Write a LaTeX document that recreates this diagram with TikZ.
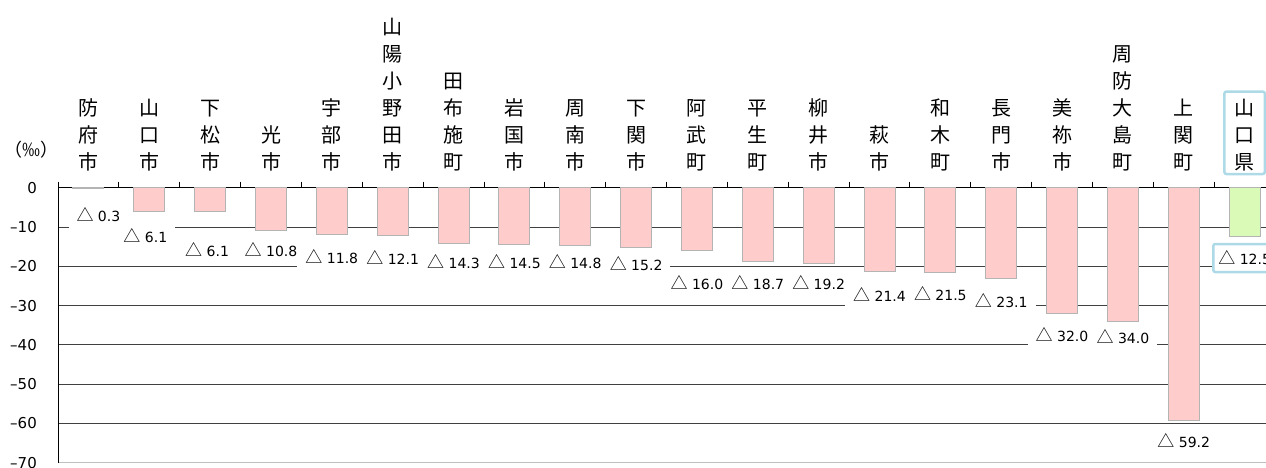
\documentclass[tikz,border=0pt]{standalone}
\usepackage{fontspec}
\setmainfont{DejaVu Sans}
\newfontfamily\jp{Noto Sans CJK JP}
\definecolor{barpink}{HTML}{FFCCCC}
\definecolor{bargreen}{HTML}{DAFBB8}
\definecolor{bargrey}{HTML}{B4B4B4}
\definecolor{keyblue}{HTML}{ADDAE6}
\newcommand{\dtri}{{\jp\fontsize{17}{17}\selectfont △}}

\begin{document}
\begin{tikzpicture}[
    x = 1pt, y = -1pt, % one unit per pixel, y downwards
    bar/.style = {fill=barpink, draw=bargrey, line width=0.9pt}, % bar style
    grid/.style = {draw=black!75, line width=0.9pt}, % grid line style
    cat/.style = {anchor=south, align=center, inner sep=0pt, font=\jp\fontsize{20}{27}\selectfont},
    val/.style = {fill=white, inner xsep=8pt, inner ysep=0pt, minimum height=26pt, font=\fontsize{14}{14}\selectfont},
    ylab/.style = {anchor=east, inner sep=0pt, font=\fontsize{15}{15}\selectfont},
    keybox/.style = {draw=keyblue, line width=2.5pt, rounded corners=2pt}
]
\useasboundingbox (0,0) rectangle (1266,468);

% Grid
\draw[grid] (58,227.0) -- (1275,227.0);
\draw[grid] (58,266.3) -- (1275,266.3);
\draw[grid] (58,305.6) -- (1275,305.6);
\draw[grid] (58,344.9) -- (1275,344.9);
\draw[grid] (58,384.2) -- (1275,384.2);
\draw[grid] (58,423.5) -- (1275,423.5);
\draw[draw=black!25, line width=1.2pt] (58,462.8) -- (1275,462.8);

% Axes
\draw[line width=0.9pt] (58,187.7) -- (1275,187.7);
\draw[line width=0.9pt] (58,181.5) -- (58,462.8);
\draw[line width=0.9pt]
    (118.85,181.5) -- +(0,6.2) (179.7,181.5) -- +(0,6.2) (240.55,181.5) -- +(0,6.2)
    (301.4,181.5) -- +(0,6.2) (362.25,181.5) -- +(0,6.2) (423.1,181.5) -- +(0,6.2)
    (483.95,181.5) -- +(0,6.2) (544.8,181.5) -- +(0,6.2) (605.65,181.5) -- +(0,6.2)
    (666.5,181.5) -- +(0,6.2) (727.35,181.5) -- +(0,6.2) (788.2,181.5) -- +(0,6.2)
    (849.05,181.5) -- +(0,6.2) (909.9,181.5) -- +(0,6.2) (970.75,181.5) -- +(0,6.2)
    (1031.6,181.5) -- +(0,6.2) (1092.45,181.5) -- +(0,6.2) (1153.3,181.5) -- +(0,6.2)
    (1214.15,181.5) -- +(0,6.2);

% Axis labels
\node[ylab] (y0) at (37,187.7) {0};
\node[ylab] (y1) at (37,227.0) {\textendash10};
\node[ylab] (y2) at (37,266.3) {\textendash20};
\node[ylab] (y3) at (37,305.6) {\textendash30};
\node[ylab] (y4) at (37,344.9) {\textendash40};
\node[ylab] (y5) at (37,384.2) {\textendash50};
\node[ylab] (y6) at (37,423.5) {\textendash60};
\node[ylab] (y7) at (37,462.8) {\textendash70};
\node[font=\jp\fontsize{18}{18}\selectfont, inner sep=0pt] (unit) at (32,150) {（‰）};

% Bars
\draw[bar] (72.9,187.7) rectangle (103.9,188.9);
\draw[bar] (133.8,187.7) rectangle (164.8,211.7);
\draw[bar] (194.6,187.7) rectangle (225.6,211.7);
\draw[bar] (255.5,187.7) rectangle (286.5,230.1);
\draw[bar] (316.3,187.7) rectangle (347.3,234.1);
\draw[bar] (377.2,187.7) rectangle (408.2,235.3);
\draw[bar] (438.0,187.7) rectangle (469.0,243.9);
\draw[bar] (498.9,187.7) rectangle (529.9,244.7);
\draw[bar] (559.7,187.7) rectangle (590.7,245.9);
\draw[bar] (620.6,187.7) rectangle (651.6,247.4);
\draw[bar] (681.4,187.7) rectangle (712.4,250.6);
\draw[bar] (742.3,187.7) rectangle (773.3,261.2);
\draw[bar] (803.1,187.7) rectangle (834.1,263.2);
\draw[bar] (864.0,187.7) rectangle (895.0,271.8);
\draw[bar] (924.8,187.7) rectangle (955.8,272.2);
\draw[bar] (985.7,187.7) rectangle (1016.7,278.5);
\draw[bar] (1046.5,187.7) rectangle (1077.5,313.5);
\draw[bar] (1107.4,187.7) rectangle (1138.4,321.3);
\draw[bar] (1168.2,187.7) rectangle (1199.2,420.4);
\draw[bar, fill=bargreen] (1229.1,187.7) rectangle (1260.1,236.8);

% Value labels
\node[val] (v1) at (98.4,215) {\dtri\ 0.3};
\node[val] (v2) at (145.3,236) {\dtri\ 6.1};
\node[val] (v3) at (207.1,250) {\dtri\ 6.1};
\node[val] (v4) at (271.0,250) {\dtri\ 10.8};
\node[val] (v5) at (331.8,257) {\dtri\ 11.8};
\node[val] (v6) at (392.7,257) {\dtri\ 12.1};
\node[val] (v7) at (453.5,262) {\dtri\ 14.3};
\node[val] (v8) at (514.4,262) {\dtri\ 14.5};
\node[val] (v9) at (575.2,262) {\dtri\ 14.8};
\node[val] (v10) at (636.1,264) {\dtri\ 15.2};
\node[val] (v11) at (696.9,283) {\dtri\ 16.0};
\node[val] (v12) at (757.8,283) {\dtri\ 18.7};
\node[val] (v13) at (818.6,283) {\dtri\ 19.2};
\node[val] (v14) at (879.5,294) {\dtri\ 21.4};
\node[val] (v15) at (940.3,294) {\dtri\ 21.5};
\node[val] (v16) at (1001.2,301) {\dtri\ 23.1};
\node[val] (v17) at (1062.0,335) {\dtri\ 32.0};
\node[val] (v18) at (1122.9,337) {\dtri\ 34.0};
\node[val] (v19) at (1183.7,441) {\dtri\ 59.2};
\node[val, keybox, inner xsep=5pt, minimum height=28pt] (v20) at (1244.6,258) {\dtri\ 12.5};

% Category labels
\node[cat] (c1) at (88.4,171) {防\\府\\市};
\node[cat] (c2) at (149.3,171) {山\\口\\市};
\node[cat] (c3) at (210.1,171) {下\\松\\市};
\node[cat] (c4) at (271.0,171) {光\\市};
\node[cat] (c5) at (331.8,171) {宇\\部\\市};
\node[cat] (c6) at (392.7,171) {山\\陽\\小\\野\\田\\市};
\node[cat] (c7) at (453.5,171) {田\\布\\施\\町};
\node[cat] (c8) at (514.4,171) {岩\\国\\市};
\node[cat] (c9) at (575.2,171) {周\\南\\市};
\node[cat] (c10) at (636.1,171) {下\\関\\市};
\node[cat] (c11) at (696.9,171) {阿\\武\\町};
\node[cat] (c12) at (757.8,171) {平\\生\\町};
\node[cat] (c13) at (818.6,171) {柳\\井\\市};
\node[cat] (c14) at (879.5,171) {萩\\市};
\node[cat] (c15) at (940.3,171) {和\\木\\町};
\node[cat] (c16) at (1001.2,171) {長\\門\\市};
\node[cat] (c17) at (1062.0,171) {美\\祢\\市};
\node[cat] (c18) at (1122.9,171) {周\\防\\大\\島\\町};
\node[cat] (c19) at (1183.7,171) {上\\関\\町};
\node[cat] (c20) at (1244.6,171) {山\\口\\県};
\draw[keybox] ([xshift=-10pt,yshift=7pt]c20.north west) rectangle ([xshift=10pt,yshift=-3pt]c20.south east);

\end{tikzpicture}
\end{document}
